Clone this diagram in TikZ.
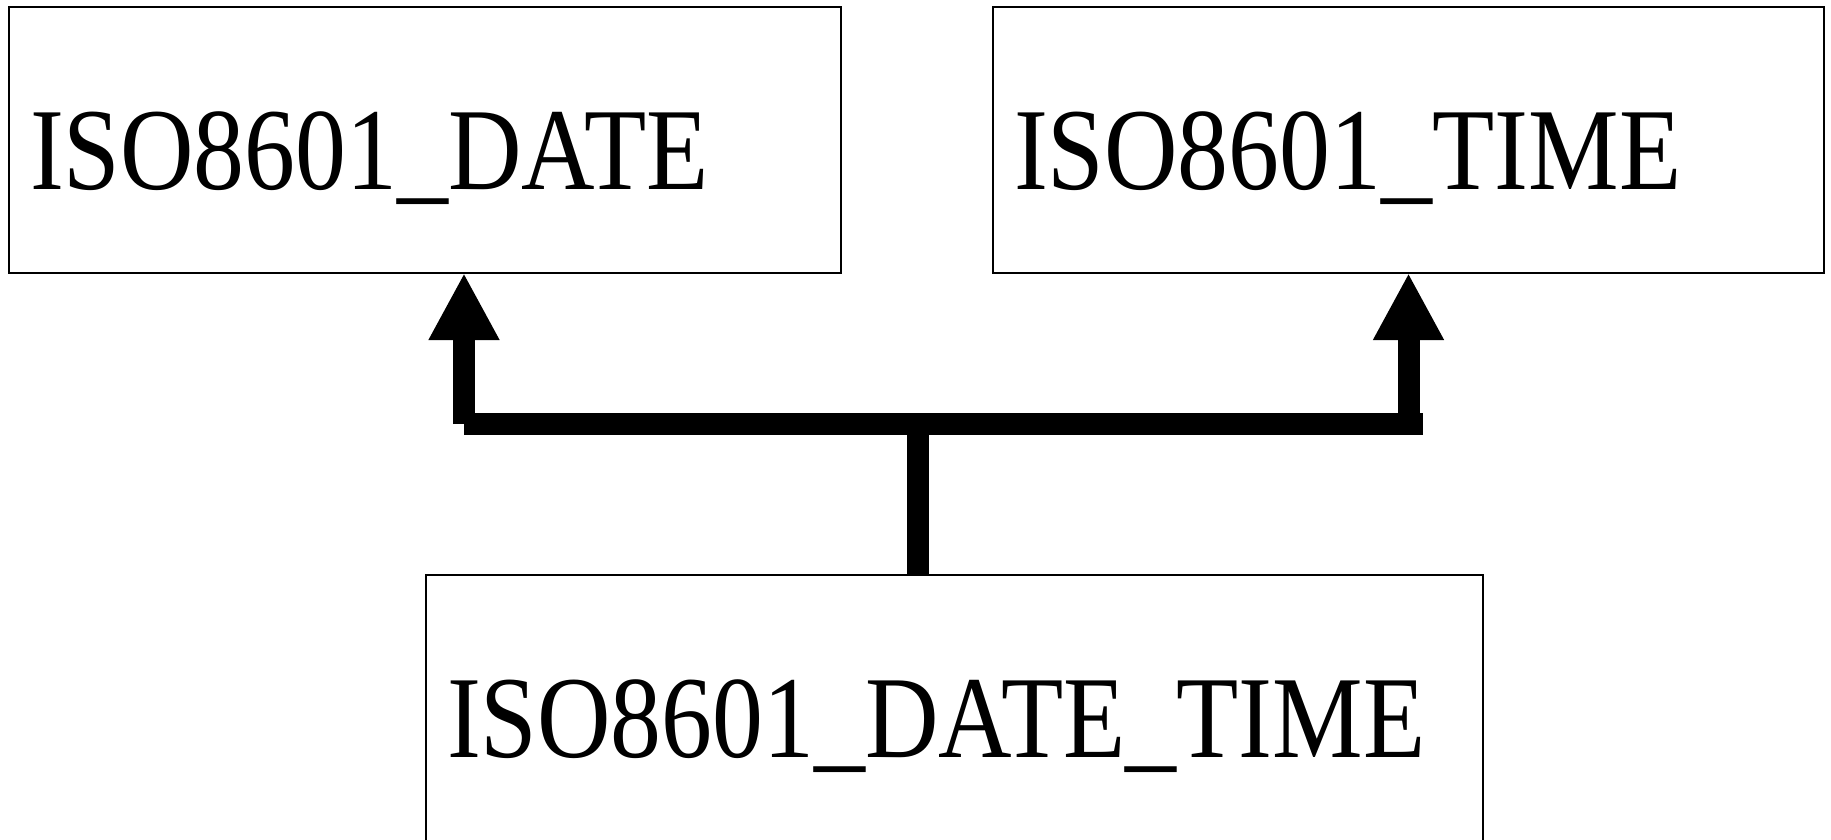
\documentclass[tikz,border=0pt]{standalone}
\usepackage{fontspec}
\newfontfamily\boxfont[FakeStretch=0.87]{Liberation Serif}
\usetikzlibrary{arrows.meta}
\tikzset{
  typebox/.style={draw, line width=1.6pt, anchor=north west, outer sep=0pt,
    inner xsep=21pt, inner ysep=0pt, text width=#1, align=left,
    text height=182pt, text depth=84pt,
    font=\boxfont\fontsize{117}{120}\selectfont},
  link/.style={line width=22pt},
  uparrow/.style={link, -{Triangle[length=67pt, width=66pt]}},
}
\begin{document}
\begin{tikzpicture}[x=1pt, y=-1pt]
  \useasboundingbox (0,0) rectangle (1831,839);
  % Boxes
  \node[typebox=790pt] (date) at (9,7) {ISO8601\_DATE};
  \node[typebox=789pt] (time) at (993,7) {ISO8601\_TIME};
  \node[typebox=1015pt] (datetime) at (426,575) {ISO8601\_DATE\_TIME};
  % Junction bar
  \coordinate (hub) at (918,424);
  \coordinate (barleft) at (464,424);
  \coordinate (barright) at (1423,424);
  \draw[link] (hub |- datetime.north) -- (hub);
  \draw[link] (barleft) -- (barright);
  % Arrows up
  \draw[uparrow] (barleft) -- (barleft |- date.south);
  \draw[uparrow] (time.south |- hub) -- (time.south);
\end{tikzpicture}
\end{document}
